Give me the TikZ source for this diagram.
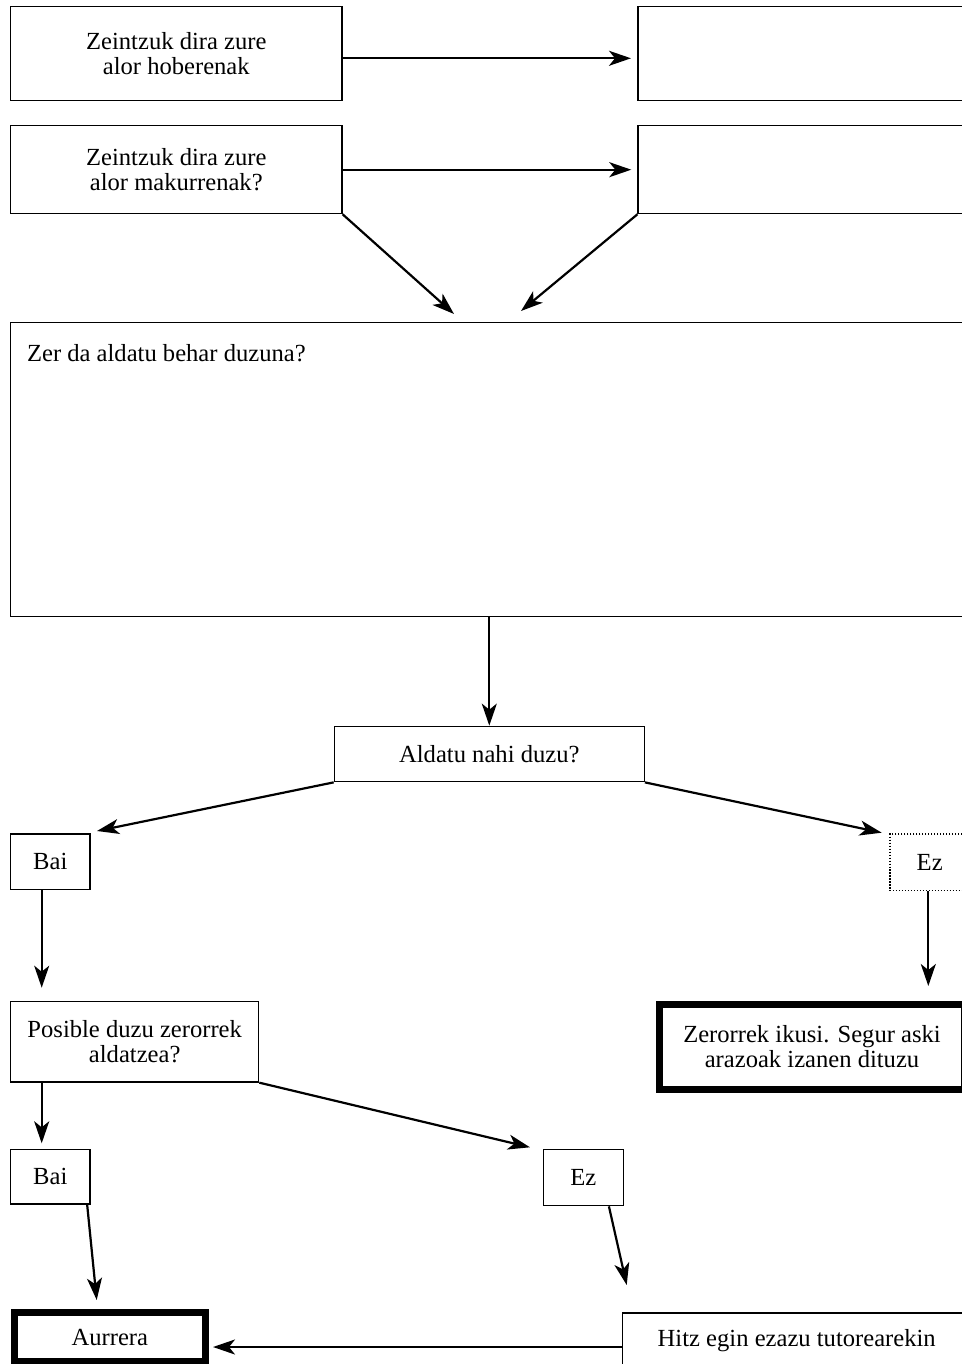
\documentclass[tikz,border=0pt]{standalone}
\usepackage{fontspec}
\setmainfont{Liberation Serif}
\usepackage{tikz}
\usetikzlibrary{arrows.meta,positioning,calc}

\begin{document}
\begin{tikzpicture}[x=0.02cm, y=-0.02cm,
    font=\fontsize{14}{14.3}\selectfont,
    box/.style={draw, line width=0.7pt, align=center, inner sep=0pt},
    heavybox/.style={draw, line width=4pt, align=center, inner sep=0pt},
    arr/.style={-{Stealth[length=0.44cm, width=0.3cm, inset=0.12cm]}, line width=1.25pt}]
    \path[use as bounding box, fill=white] (0,0) rectangle (962,1364);

    % Strengths and weaknesses
    \node[box, minimum width=6.63cm, minimum height=1.88cm] (hob) at (176.3,53.7) {Zeintzuk dira zure\\alor hoberenak};
    \node[box, minimum width=7.24cm, minimum height=1.88cm] (res1) at (819,53.7) {};
    \node[box, minimum width=6.63cm, minimum height=1.76cm] (mak) at (176.3,169.7) {Zeintzuk dira zure\\alor makurrenak?};
    \node[box, minimum width=7.24cm, minimum height=1.76cm] (res2) at (819,169.7) {};

    % What to change
    \node[box, minimum width=19.79cm, minimum height=5.88cm] (big) at (505.3,469.7) {};
    \node[anchor=base west, inner sep=0pt] (bigtxt) at (26.7,361.7) {Zer da aldatu behar duzuna?};

    % Decision
    \node[box, minimum width=6.2cm, minimum height=1.11cm] (ald) at (489.3,754) {Aldatu nahi duzu?};
    \node[box, minimum width=1.59cm, minimum height=1.11cm] (bai1) at (50.3,861.7) {Bai};
    \node[box, densely dotted, minimum width=1.59cm, minimum height=1.13cm] (ez1) at (929.7,862.3) {Ez};
    \node[heavybox, minimum width=6.12cm, minimum height=1.7cm] (zer) at (812,1047) {Zerorrek ikusi. Segur aski\\arazoak izanen dituzu};
    \node[box, minimum width=4.96cm, minimum height=1.61cm] (pos) at (134.7,1041.8) {Posible duzu zerorrek\\aldatzea?};
    \node[box, minimum width=1.59cm, minimum height=1.09cm] (bai2) at (50.3,1176.7) {Bai};
    \node[box, minimum width=1.6cm, minimum height=1.13cm] (ez2) at (583.3,1177.5) {Ez};

    % Outcomes
    \node[heavybox, minimum width=3.83cm, minimum height=1.0cm] (aur) at (109.8,1337) {Aurrera};
    \node[box, minimum width=6.96cm, minimum height=1.12cm] (hitz) at (796.7,1341) {Hitz egin ezazu tutorearekin};

    % Arrow ends
    \coordinate (t1) at (631,58.3);
    \coordinate (t2) at (454,314);
    \coordinate (t3) at (521,311);
    \coordinate (t4) at (97,831);
    \coordinate (t5) at (881.7,832.7);
    \coordinate (t6) at (41.7,987.7);
    \coordinate (t7) at (928.3,986);
    \coordinate (t8) at (41.7,1143.3);
    \coordinate (t9) at (530,1147.3);
    \coordinate (t10) at (96.7,1300);
    \coordinate (t11) at (626.7,1285);
    \coordinate (t12) at (213,1347);

    % Connectors
    \draw[arr] (hob.east |- t1) -- (t1);
    \draw[arr, shorten >=3.5pt] (mak.east) -- (res2.west);
    \draw[arr] (mak.south east) -- (t2);
    \draw[arr] (res2.south west) -- (t3);
    \draw[arr] (big.south -| ald.north) -- (ald.north);
    \draw[arr] (ald.south west) -- (t4);
    \draw[arr] (ald.south east) -- (t5);
    \draw[arr] (t6 |- bai1.south) -- (t6);
    \draw[arr] (t7 |- ez1.south) -- (t7);
    \draw[arr] (t8 |- pos.south) -- (t8);
    \draw[arr] (pos.south east) -- (t9);
    \draw[arr] ([xshift=-0.07cm]bai2.south east) -- (t10);
    \draw[arr] ([xshift=-0.3cm]ez2.south east) -- (t11);
    \draw[arr] (hitz.west |- t12) -- (t12);
\end{tikzpicture}
\end{document}
